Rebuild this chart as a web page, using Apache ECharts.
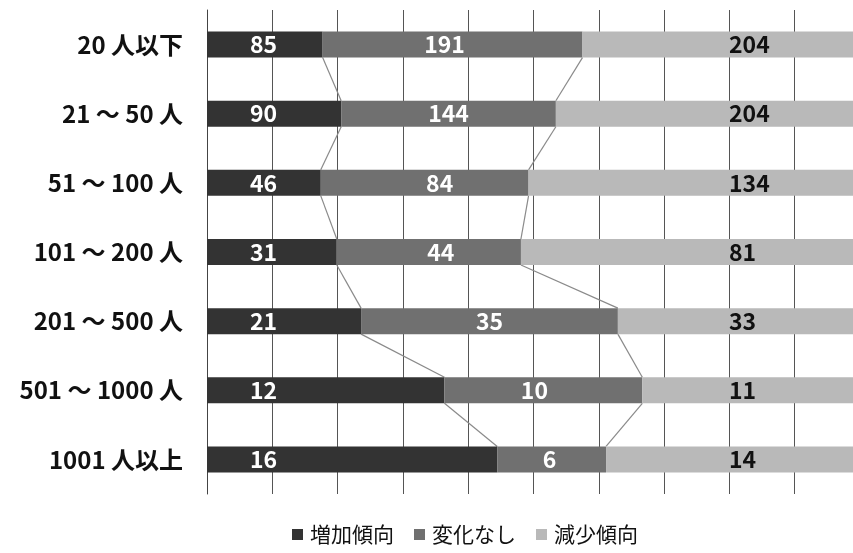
<!DOCTYPE html>
<html><head><meta charset="utf-8">
<script src="https://cdn.jsdelivr.net/npm/echarts@6/dist/echarts.min.js"></script>
<style>html,body{margin:0;padding:0;background:#fff}#c{width:853px;height:553px}</style>
</head><body><div id="c"></div>
<script>
const categories = ["20 人以下", "21 ～ 50 人", "51 ～ 100 人", "101 ～ 200 人", "201 ～ 500 人", "501 ～ 1000 人", "1001 人以上"];
const seriesNames = ["増加傾向", "変化なし", "減少傾向"];
const increase = [85, 90, 46, 31, 21, 12, 16];
const noChange = [191, 144, 84, 44, 35, 10, 6];
const decrease = [204, 204, 134, 81, 33, 11, 14];

// label nudges for the middle series (styling only, px)
const midLabelShift = [-8, 0, 15, 12, 0, -9, -2];

const raw = [increase, noChange, decrease];
const totals = categories.map((_, i) => increase[i] + noChange[i] + decrease[i]);
const pct = raw.map(arr => arr.map((v, i) => v / totals[i] * 100));
const cumA = pct[0];
const cumB = pct[0].map((v, i) => v + pct[1][i]);

const FONT = '"Noto Sans CJK JP", "Noto Sans", sans-serif';
const colors = ['#333333', '#707070', '#b9b9b9'];
const BAR = 26;
const LFS = 23;

const lineData = [];
for (let i = 0; i < categories.length - 1; i++) {
  lineData.push([cumA[i], i, cumA[i + 1], cumB[i], cumB[i + 1]]);
}

function barData(s) {
  return pct[s].map((v, i) => {
    if (s !== 1) return v;
    return { value: v, label: { offset: [midLabelShift[i], 0] } };
  });
}

const chart = echarts.init(document.getElementById('c'));
chart.setOption({
  backgroundColor: '#fff',
  animation: false,
  grid: { left: 207, width: 653, top: 10, bottom: 59, containLabel: false, outerBoundsMode: 'none' },
  xAxis: {
    type: 'value', min: 0, max: 100, interval: 10,
    axisLabel: { show: false }, axisLine: { show: false }, axisTick: { show: false },
    splitLine: { show: true, lineStyle: { color: '#555', width: 1 } }
  },
  yAxis: {
    type: 'category', data: categories, inverse: true,
    axisTick: { show: false },
    axisLine: { show: true, lineStyle: { color: '#444', width: 1 } },
    axisLabel: { color: '#111', fontSize: 24, fontWeight: 'bold', fontFamily: FONT, margin: 24 }
  },
  legend: {
    bottom: 3, left: 287, itemWidth: 11, itemHeight: 11, itemGap: 20,
    icon: 'rect',
    textStyle: { fontSize: 21, fontFamily: FONT, color: '#111', padding: [0, 0, 0, 2] },
    data: seriesNames
  },
  series: [
    ...seriesNames.map((name, s) => ({
      name, type: 'bar', stack: 'all', barWidth: BAR,
      data: barData(s),
      itemStyle: { color: colors[s] },
      z: 3,
      label: s === 0 ? {
        show: true, position: 'insideLeft', distance: 43, align: 'left', color: '#fff', fontSize: LFS, fontWeight: 'bold', fontFamily: FONT,
        formatter: p => raw[s][p.dataIndex]
      } : s === 1 ? {
        show: true, position: 'inside', color: '#fff', fontSize: LFS, fontWeight: 'bold', fontFamily: FONT,
        formatter: p => raw[s][p.dataIndex]
      } : {
        show: true, position: 'insideRight', distance: 131, align: 'left', color: '#111', fontSize: LFS, fontWeight: 'bold', fontFamily: FONT,
        formatter: p => raw[s][p.dataIndex]
      }
    })),
    {
      type: 'custom', name: 'lines', z: 2, silent: true,
      data: lineData,
      encode: { x: 0, y: 1 },
      renderItem: (params, api) => {
        const i = api.value(1);
        const a0 = api.coord([api.value(0), i]);
        const a1 = api.coord([api.value(2), i + 1]);
        const b0 = api.coord([api.value(3), i]);
        const b1 = api.coord([api.value(4), i + 1]);
        const h = BAR / 2;
        const st = { stroke: '#8a8a8a', lineWidth: 1.2 };
        return { type: 'group', children: [
          { type: 'line', shape: { x1: a0[0], y1: a0[1] + h, x2: a1[0], y2: a1[1] - h }, style: st },
          { type: 'line', shape: { x1: b0[0], y1: b0[1] + h, x2: b1[0], y2: b1[1] - h }, style: st }
        ]};
      }
    }
  ]
});
</script></body></html>
